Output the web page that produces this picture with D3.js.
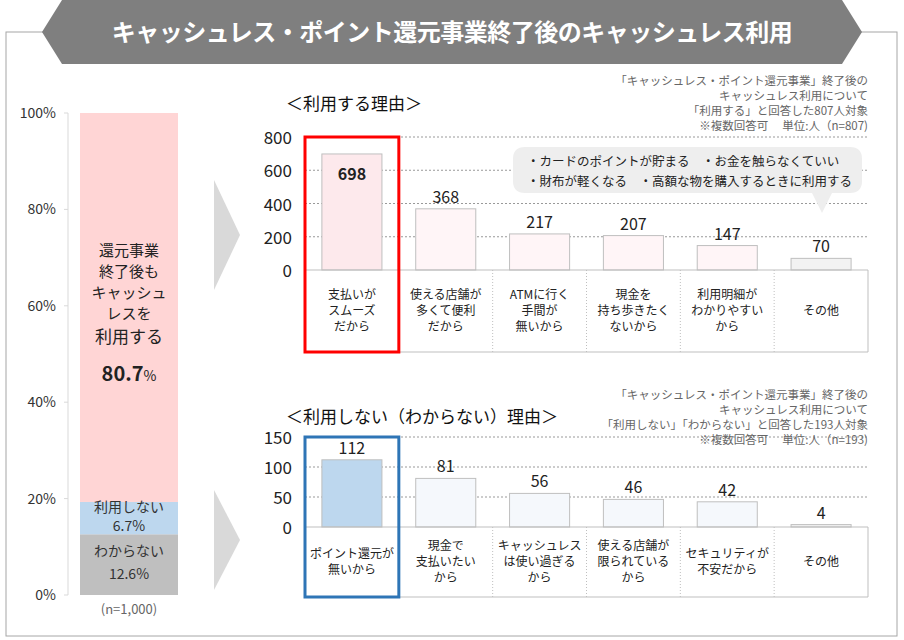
<!DOCTYPE html>
<html><head><meta charset="utf-8">
<script src="https://cdn.jsdelivr.net/npm/d3@7"></script>
<style>body{margin:0;background:#fff}text{font-family:"Noto Sans CJK JP","Noto Sans",sans-serif}</style>
</head><body>
<script>
var shareLabels=["わからない","利用しない","利用する"]
var shareValues=[12.6,6.7,80.7]
var shareColors=["#bfbfbf","#bdd7ee","#ffd5d5"]
var useCats=[["支払いが","スムーズ","だから"],["使える店舗が","多くて便利","だから"],["ATMに行く","手間が","無いから"],["現金を","持ち歩きたく","ないから"],["利用明細が","わかりやすい","から"],["その他"]]
var useValues=[698,368,217,207,147,70]
var useTicks=[0,200,400,600,800]
var notCats=[["ポイント還元が","無いから"],["現金で","支払いたい","から"],["キャッシュレス","は使い過ぎる","から"],["使える店舗が","限られている","から"],["セキュリティが","不安だから"],["その他"]]
var notValues=[112,81,56,46,42,4]
var notTicks=[0,50,100,150]

var svg=d3.select("body").append("svg").attr("width",904).attr("height",640)
svg.append("rect").attr("x",6).attr("y",32).attr("width",891).attr("height",604).attr("fill","none").attr("stroke","#a6a6a6")
svg.append("path").attr("d","M62,0 L842,0 L862,32 L842,64 L62,64 L42,32 Z").attr("fill","#7f7f7f")
svg.append("text").attr("x",452).attr("y",41).attr("text-anchor","middle").attr("fill","#fff").attr("font-size",24).attr("font-weight","bold").attr("letter-spacing",-0.5).text("キャッシュレス・ポイント還元事業終了後のキャッシュレス利用")

// left stacked bar
var yS=d3.scaleLinear().domain([0,100]).range([595,113])
svg.append("line").attr("x1",68).attr("x2",68).attr("y1",113).attr("y2",595).attr("stroke","#d9d9d9")
;[0,20,40,60,80,100].forEach(function(t){
	svg.append("line").attr("x1",64).attr("x2",68).attr("y1",yS(t)).attr("y2",yS(t)).attr("stroke","#d9d9d9")
	svg.append("text").attr("x",56).attr("y",yS(t)+5).attr("text-anchor","end").attr("font-size",14).attr("fill","#333").text(t+"%")
})
var cum=0
shareValues.forEach(function(v,i){
	svg.append("rect").attr("x",80).attr("width",98).attr("y",yS(cum+v)).attr("height",yS(cum)-yS(cum+v)).attr("fill",shareColors[i])
	cum+=v
})
svg.append("text").attr("x",129).attr("y",556).attr("text-anchor","middle").attr("font-size",14).attr("fill","#333").text("わからない")
svg.append("text").attr("x",129).attr("y",579).attr("text-anchor","middle").attr("font-size",14).attr("fill","#333").text("12.6%")
svg.append("text").attr("x",129).attr("y",512).attr("text-anchor","middle").attr("font-size",14).attr("fill","#333").text("利用しない")
svg.append("text").attr("x",129).attr("y",531).attr("text-anchor","middle").attr("font-size",14).attr("fill","#333").text("6.7%")
;["還元事業","終了後も","キャッシュ","レスを"].forEach(function(s,i){
	svg.append("text").attr("x",129).attr("y",256+i*21).attr("text-anchor","middle").attr("font-size",15).attr("fill","#222").text(s)
})
svg.append("text").attr("x",129).attr("y",343).attr("text-anchor","middle").attr("font-size",17).attr("fill","#222").text("利用する")
var t8=svg.append("text").attr("x",129).attr("y",381).attr("text-anchor","middle").attr("fill","#222")
t8.append("tspan").attr("font-size",20).attr("font-weight","bold").text("80.7")
t8.append("tspan").attr("font-size",14).text("%")
svg.append("text").attr("x",129).attr("y",614).attr("text-anchor","middle").attr("font-size",13).attr("fill","#666").text("(n=1,000)")

// arrows
;[[180,290],[490,590]].forEach(function(a){
	var m=(a[0]+a[1])/2
	svg.append("path").attr("d","M214,"+a[0]+" L240,"+m+" L214,"+a[1]+" Z").attr("fill","#d9d9d9")
})

function chart(o){
	var x=d3.scaleBand().domain(d3.range(o.values.length)).range([305,868])
	var y=d3.scaleLinear().domain([0,o.max]).range([o.y0,o.y1])
	var g=svg.append("g")
	o.ticks.forEach(function(t){
		if(t>0) g.append("line").attr("x1",305).attr("x2",868).attr("y1",y(t)).attr("y2",y(t)).attr("stroke","#999").attr("stroke-dasharray","2,2")
		g.append("text").attr("x",292).attr("y",y(t)+7).attr("text-anchor","end").attr("font-size",17).attr("fill","#222").text(t)
	})
	g.selectAll(".b").data(o.values).enter().append("rect")
		.attr("x",function(d,i){return x(i)+x.bandwidth()*0.18}).attr("width",x.bandwidth()*0.64)
		.attr("y",function(d){return y(d)}).attr("height",function(d){return o.y0-y(d)})
		.attr("fill",function(d,i){return o.fills[i]}).attr("stroke","#bfbfbf")
	g.selectAll(".v").data(o.values).enter().append("text")
		.attr("x",function(d,i){return x(i)+x.bandwidth()/2})
		.attr("y",function(d,i){return i==0&&o.inside?y(d)+26:y(d)-6})
		.attr("text-anchor","middle").attr("font-size",16).attr("fill","#222")
		.attr("font-weight",function(d,i){return i==0&&o.inside?"bold":"normal"}).text(function(d){return d})
	g.append("line").attr("x1",305).attr("x2",868).attr("y1",o.y0).attr("y2",o.y0).attr("stroke","#bfbfbf")
	g.append("line").attr("x1",305).attr("x2",868).attr("y1",o.yb).attr("y2",o.yb).attr("stroke","#bfbfbf")
	g.append("line").attr("x1",868).attr("x2",868).attr("y1",o.y0).attr("y2",o.yb).attr("stroke","#bfbfbf")
	d3.range(1,o.values.length).forEach(function(i){
		g.append("line").attr("x1",x(i)).attr("x2",x(i)).attr("y1",o.y0).attr("y2",o.yb).attr("stroke","#bfbfbf").attr("stroke-dasharray","1,2")
	})
	o.cats.forEach(function(c,i){
		var mid=(o.y0+o.yb)/2, lh=16
		c.forEach(function(s,j){
			g.append("text").attr("x",x(i)+x.bandwidth()/2).attr("y",mid+(j-(c.length-1)/2)*lh+4)
				.attr("text-anchor","middle").attr("font-size",12).attr("fill","#222").text(s)
		})
	})
	g.append("rect").attr("x",305).attr("y",o.y1).attr("width",x.bandwidth()).attr("height",o.yb-o.y1)
		.attr("fill","none").attr("stroke",o.hl).attr("stroke-width",3)
	g.append("text").attr("x",286).attr("y",o.ty).attr("font-size",17).attr("fill","#111").text(o.title)
	o.notes.forEach(function(s,i){
		g.append("text").attr("x",868).attr("y",o.ny+i*15).attr("text-anchor","end").attr("font-size",11.5).attr("fill","#666").text(s)
	})
}
chart({values:useValues,cats:useCats,ticks:useTicks,max:800,y0:270,y1:137,yb:352,inside:true,hl:"#ff0000",
	fills:["#fde9ec","#fff5f7","#fff5f7","#fff5f7","#fff5f7","#f2f2f2"],title:"＜利用する理由＞",ty:110,
	notes:["「キャッシュレス・ポイント還元事業」終了後の","キャッシュレス利用について","「利用する」と回答した807人対象","※複数回答可　 単位:人（n=807)"],ny:85})
chart({values:notValues,cats:notCats,ticks:notTicks,max:150,y0:527,y1:437,yb:597,inside:false,hl:"#2e75b6",
	fills:["#bdd7ee","#f5f8fc","#f5f8fc","#f5f8fc","#f5f8fc","#f2f2f2"],title:"＜利用しない（わからない）理由＞",ty:423,
	notes:["「キャッシュレス・ポイント還元事業」終了後の","キャッシュレス利用について","「利用しない」「わからない」と回答した193人対象","※複数回答可　 単位:人（n=193)"],ny:399})
// callout for top chart
var co=svg.append("g")
co.append("path").attr("d","M525,147 H850 Q862,147 862,159 V181 Q862,193 850,193 H832 L822,213 L812,193 H525 Q513,193 513,181 V159 Q513,147 525,147 Z").attr("fill","#eeeeee")
co.append("text").attr("x",527).attr("y",166).attr("font-size",12.5).attr("fill","#222").text("・カードのポイントが貯まる　・お金を触らなくていい")
co.append("text").attr("x",527).attr("y",186).attr("font-size",12.5).attr("fill","#222").text("・財布が軽くなる　・高額な物を購入するときに利用する")
</script>
</body></html>
